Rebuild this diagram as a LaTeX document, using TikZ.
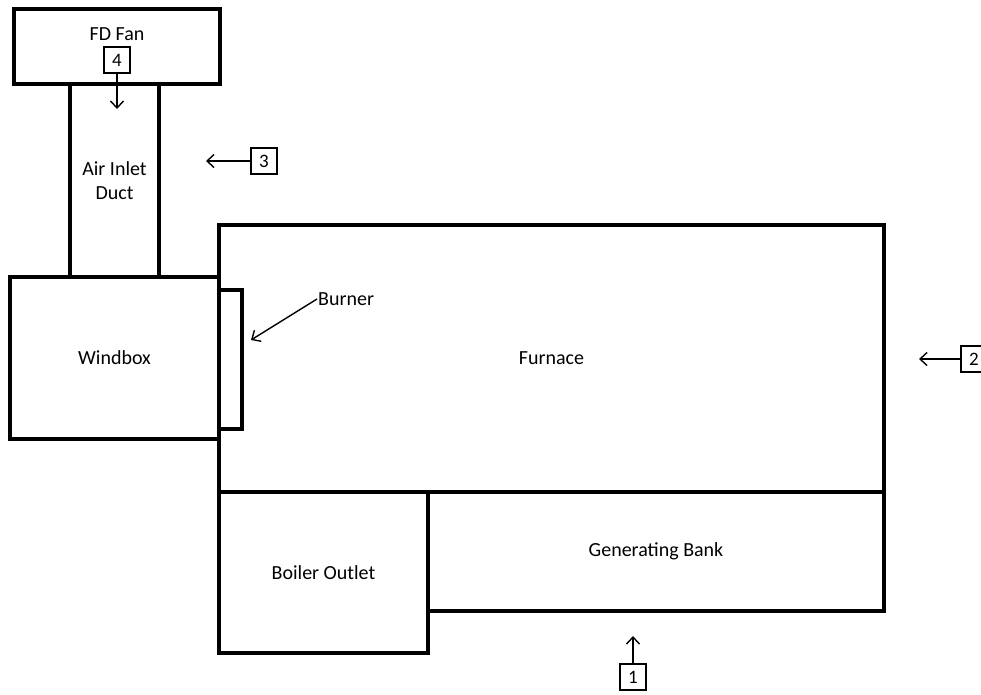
\documentclass[tikz,border=0pt]{standalone}
\usepackage{fontspec}
\setmainfont{Carlito}
\usetikzlibrary{arrows,arrows.meta,shapes,positioning}

\begin{document}
\begin{tikzpicture}[x=1pt,y=-1pt]
      \tikzstyle{part}=[rectangle,draw=black,line width=3.2pt,inner sep=0pt,align=center,font=\fontsize{20}{24}\selectfont]
      \tikzstyle{tag}=[rectangle,draw=black,line width=1.2pt,minimum size=26pt,inner sep=0pt,font=\fontsize{19}{22}\selectfont]
      \tikzstyle{pointer}=[line width=1.4pt,-{Straight Barb[length=7pt,width=13pt]}]
      \tikzstyle{caption}=[inner sep=1pt,font=\fontsize{20}{24}\selectfont]

      \useasboundingbox (0,0) rectangle (981,694);

      \begin{scope}
        \node[part,minimum width=665pt,minimum height=267pt](furnace) at (551.5,358.5){Furnace};
        \node[part,minimum width=209pt,minimum height=162pt](windbox) at (114.5,358){Windbox};
        \node[part,minimum width=209pt,minimum height=161pt](outlet) at (323.5,572.5){Boiler Outlet};
        \node[part,minimum width=456pt,minimum height=119pt](bank) at (656,551.5){Generating Bank};
        \node[part,minimum width=23pt,minimum height=139pt](burner) at (230.5,359.5){};
        \node[part,minimum width=89pt,minimum height=193pt](duct) at (114.5,180.5){Air Inlet\\Duct};
        \node[part,minimum width=206pt,minimum height=75pt](fan) at (117,46.5){};
        \node[caption](fanname) at (117,34){FD Fan};
        \node[caption,anchor=west](burnername) at (317,299){Burner};

        \node[tag](t4) at (117,60){4};
        \node[tag](t3) at (264,161){3};
        \node[tag](t2) at (974,359){2};
        \node[tag](t1) at (633,677){1};

        \coordinate(p4) at (117,109);
        \coordinate(p3) at (206,161);
        \coordinate(p2) at (919,359);
        \coordinate(p1) at (633,636);
        \coordinate(pb) at (251,340);

        \draw[pointer](t4.south) -- (p4);
        \draw[pointer](t3.west) -- (p3);
        \draw[pointer](t2.west) -- (p2);
        \draw[pointer](t1.north) -- (p1);
        \draw[pointer](burnername.west) -- (pb);
      \end{scope}
    \end{tikzpicture}
\end{document}
